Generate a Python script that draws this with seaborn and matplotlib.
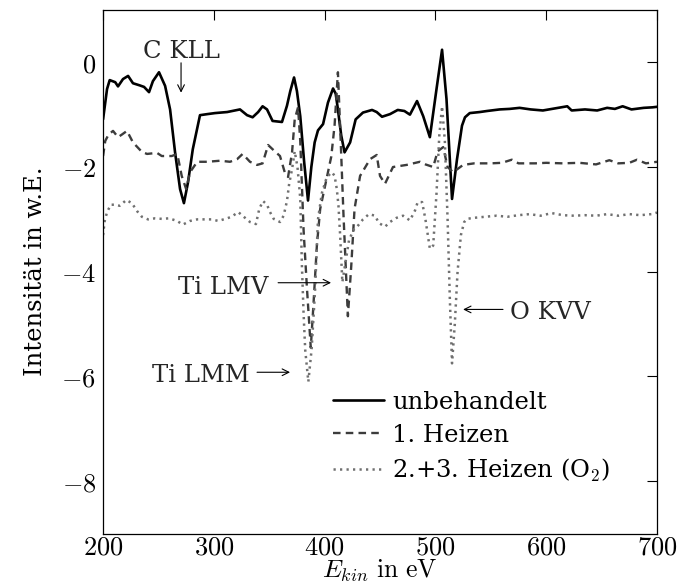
import matplotlib
matplotlib.use("Agg")
import matplotlib.pyplot as plt
import seaborn as sns
from matplotlib.ticker import FuncFormatter

# ---------------- data ----------------
e_unbeh = [200, 203.6, 206, 211, 213.5, 218, 222.6, 227, 233, 237, 241.5, 245, 250.5, 256, 260.5,
           265, 269.5, 273, 276.7, 281, 287.5, 294, 301, 312, 323.6, 330, 335, 340, 344, 348, 353,
           361.5, 366, 369, 372.4, 375, 378, 381.5, 385, 388, 391, 394, 398.6, 403, 407.6, 410,
           412, 415, 418, 423, 428, 434.6, 442.8, 447, 451.8, 459, 466, 472, 477, 483.4, 489, 495,
           501, 506, 510, 515, 519.5, 524, 526.7, 531, 540, 546.6, 558, 567, 576, 586, 597, 608,
           619, 623, 635, 646, 655, 662, 669, 677, 688, 696, 700]
i_unbeh = [-1.09, -0.51, -0.34, -0.38, -0.46, -0.32, -0.26, -0.40, -0.44, -0.47, -0.57, -0.36,
           -0.19, -0.45, -0.90, -1.72, -2.42, -2.69, -2.29, -1.66, -1.01, -0.99, -0.97, -0.95,
           -0.90, -1.01, -1.05, -0.95, -0.84, -0.90, -1.12, -1.14, -0.83, -0.55, -0.29, -0.55,
           -1.03, -1.90, -2.64, -2.00, -1.53, -1.30, -1.18, -0.77, -0.50, -0.60, -0.90, -1.40,
           -1.72, -1.53, -1.09, -0.96, -0.91, -0.95, -1.04, -0.99, -0.91, -0.93, -1.00, -0.74,
           -1.03, -1.43, -0.51, 0.24, -0.70, -2.61, -1.85, -1.21, -1.05, -0.97, -0.95, -0.93,
           -0.90, -0.89, -0.87, -0.90, -0.92, -0.88, -0.84, -0.92, -0.90, -0.92, -0.87, -0.89,
           -0.84, -0.90, -0.87, -0.86, -0.85]

e_heiz1 = [200, 202, 205, 209, 213.5, 217, 221.6, 227, 235, 239.7, 248.7, 253, 262, 267, 271,
           275, 278.5, 285, 294, 305.6, 314.6, 321, 326, 332.6, 339, 344, 349, 353, 359.7, 364,
           367, 370.6, 373, 376, 378, 381, 384, 387.5, 390, 393, 396, 402, 406, 409, 412, 414.5,
           417, 421, 424, 427, 432, 441, 447, 450, 454.5, 461.7, 474, 486, 491, 498, 502, 507,
           511, 516, 525, 535, 550, 560, 569, 575, 590, 600, 615, 630, 645, 657, 665, 675, 682,
           690, 700]
i_heiz1 = [-1.79, -1.50, -1.38, -1.31, -1.43, -1.38, -1.31, -1.53, -1.71, -1.75, -1.73, -1.79,
           -1.79, -1.75, -2.17, -2.42, -2.10, -1.90, -1.90, -1.88, -1.90, -1.85, -1.75, -1.90,
           -1.96, -1.93, -1.58, -1.66, -1.79, -2.10, -2.19, -1.72, -1.09, -0.86, -1.50, -3.20,
           -4.30, -5.45, -4.60, -3.50, -2.80, -2.20, -1.80, -1.20, -0.19, -1.50, -2.90, -4.85,
           -3.90, -2.80, -2.17, -1.85, -1.77, -2.17, -2.32, -2.00, -1.96, -1.90, -1.95, -2.00,
           -1.70, -1.62, -2.00, -2.10, -1.96, -1.93, -1.93, -1.92, -1.86, -1.93, -1.93, -1.92,
           -1.93, -1.92, -1.95, -1.87, -1.93, -1.92, -1.86, -1.93, -1.90]

e_heiz23 = [200, 201.5, 203.6, 207, 211, 215, 221, 226, 231, 235, 240.6, 247, 253, 259.6, 266.8,
            272, 278.5, 285, 292, 298, 304, 312, 316, 322, 327, 332.6, 338, 341, 344.4, 348,
            350.7, 354, 359.7, 363, 366, 368, 370.6, 373, 375.5, 378, 379.5, 381, 382.5, 385.3,
            388.3, 391.3, 394, 397.5, 402, 406.7, 409, 411, 412.5, 414, 416, 419, 422, 426, 429,
            434.6, 440, 445.5, 449, 454.5, 459, 465, 470.8, 477, 481.6, 484, 488, 491, 495, 498,
            501, 503.5, 506, 508.5, 511, 513, 515, 517.5, 520, 523, 526, 528.5, 535, 545, 555,
            565, 575, 585, 595, 605, 615, 625, 635, 645, 655, 665, 675, 685, 695, 700]
i_heiz23 = [-3.30, -3.03, -2.86, -2.72, -2.72, -2.74, -2.63, -2.69, -2.85, -2.95, -3.00, -2.98,
            -2.99, -2.98, -3.03, -3.10, -3.03, -3.00, -3.00, -3.00, -3.03, -2.98, -2.95, -2.86,
            -2.95, -3.05, -3.09, -2.80, -2.65, -2.72, -2.86, -2.99, -3.05, -2.93, -2.65, -2.32,
            -2.04, -1.70, -2.00, -2.60, -3.88, -4.80, -5.50, -6.10, -5.47, -4.38, -3.00, -2.50,
            -2.19, -2.10, -2.17, -2.42, -2.74, -3.30, -4.20, -3.80, -3.40, -3.20, -3.15, -3.00,
            -2.90, -2.93, -3.07, -3.14, -3.05, -2.97, -2.93, -3.02, -2.83, -2.67, -2.67, -3.00,
            -3.56, -3.50, -2.50, -1.40, -0.84, -1.50, -3.00, -4.50, -5.75, -5.00, -4.00, -3.30,
            -3.05, -2.99, -2.97, -2.95, -2.93, -2.95, -2.92, -2.90, -2.93, -2.88, -2.92, -2.93,
            -2.92, -2.93, -2.90, -2.93, -2.90, -2.92, -2.90, -2.87]

labels = ["unbehandelt", "1. Heizen", "2.+3. Heizen (O$_2$)"]
x_ticks = [200, 300, 400, 500, 600, 700]
y_ticks = [-8, -6, -4, -2, 0]

# ---------------- style ----------------
sns.set_theme(style="white")
plt.rcParams["font.family"] = ["DejaVu Serif"]
plt.rcParams["mathtext.fontset"] = "cm"

fig = plt.figure(figsize=(6.78, 5.85), dpi=100)
ax = fig.add_axes([0.152, 0.088, 0.817, 0.895])

sns.lineplot(x=e_unbeh, y=i_unbeh, ax=ax, color="black", lw=1.9, label=labels[0])
sns.lineplot(x=e_heiz1, y=i_heiz1, ax=ax, color="#3c3c3c", lw=1.7, label=labels[1],
             linestyle=(0, (3.2, 2.2)))
sns.lineplot(x=e_heiz23, y=i_heiz23, ax=ax, color="#707070", lw=1.8, label=labels[2],
             linestyle=(0, (0.9, 1.7)))

ax.set_xlim(200, 700)
ax.set_ylim(-9, 1)
ax.set_xticks(x_ticks)
ax.set_yticks(y_ticks)
fmt = FuncFormatter(lambda v, p: r"$%d$" % v if v >= 0 else r"$-%d$" % abs(v))
ax.xaxis.set_major_formatter(fmt)
ax.yaxis.set_major_formatter(fmt)
ax.tick_params(direction="in", length=7, width=0.8, top=True, right=True,
               labelsize=19, colors="black")
ax.tick_params(axis="x", pad=0.5)
ax.tick_params(axis="y", pad=5)
for s in ax.spines.values():
    s.set_visible(True)
    s.set_color("black")
    s.set_linewidth(0.9)

ax.set_xlabel(r"$E_{kin}\ \mathrm{in\ eV}$", fontsize=18.5, color="black")
ax.xaxis.set_label_coords(0.5, -0.047)
ax.set_ylabel("Intensität in w.E.", fontsize=17.5, color="black", labelpad=10)

# annotations
arrow = dict(arrowstyle="->", lw=0.8, color="black", shrinkA=0, shrinkB=0)
ax.text(270.4, 0.09, "C KLL", ha="center", va="baseline", fontsize=17.5)
ax.annotate("", xy=(270.4, -0.58), xytext=(270.4, -0.01), arrowprops=arrow)
ax.text(348.9, -4.42, "Ti LMV", ha="right", va="baseline", fontsize=17.5)
ax.annotate("", xy=(405.8, -4.21), xytext=(358, -4.21), arrowprops=arrow)
ax.text(332.7, -6.10, "Ti LMM", ha="right", va="baseline", fontsize=17.5)
ax.annotate("", xy=(368.8, -5.92), xytext=(339, -5.92), arrowprops=arrow)
ax.text(567.3, -4.90, "O KVV", ha="left", va="baseline", fontsize=17.5)
ax.annotate("", xy=(525, -4.72), xytext=(561, -4.72), arrowprops=arrow)

leg = ax.legend(loc="upper left", bbox_to_anchor=(0.415, 0.273), frameon=False, fontsize=17.5,
                handlelength=2.1, handletextpad=0.35, labelspacing=0.42, borderpad=0,
                borderaxespad=0)
for t in leg.get_texts():
    t.set_color("black")

fig.savefig("out.png", dpi=100)
